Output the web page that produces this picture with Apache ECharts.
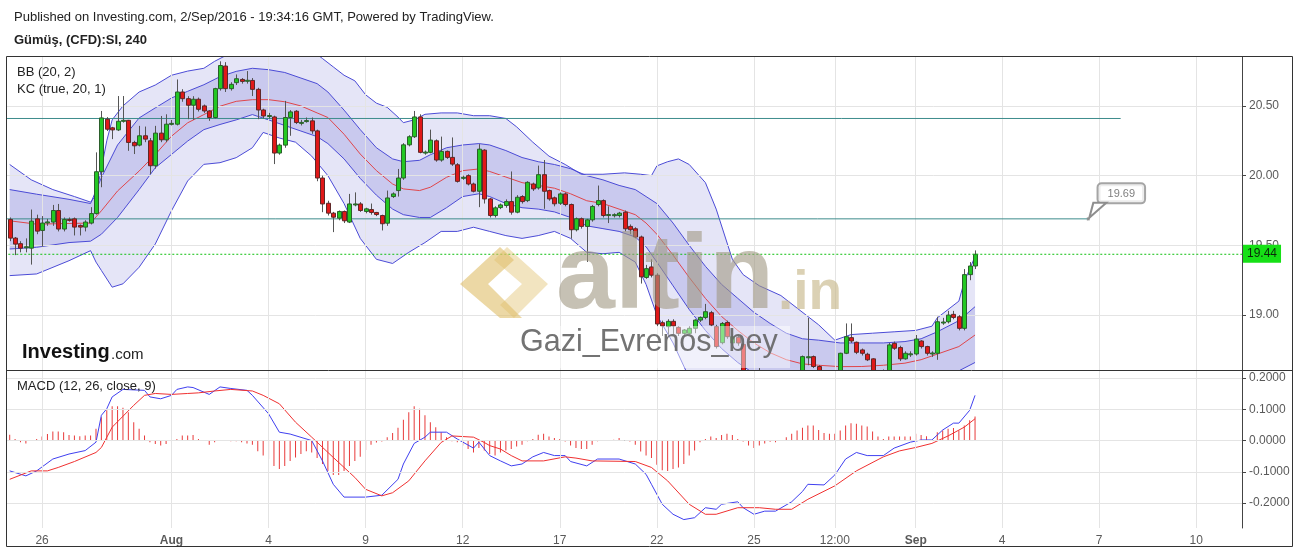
<!DOCTYPE html>
<html><head><meta charset="utf-8">
<script src="https://cdn.jsdelivr.net/npm/echarts@6/dist/echarts.min.js"></script>
<style>html,body{margin:0;padding:0;background:#fff;}#chart{width:1297px;height:552px;}</style>
</head><body><div id="chart"></div>
<script>
// ---------- time axis ----------
const tradingDays = ['2016-07-25','2016-07-26','2016-07-27','2016-07-28','2016-07-29',
  '2016-08-01','2016-08-02','2016-08-03','2016-08-04','2016-08-05',
  '2016-08-08','2016-08-09','2016-08-10','2016-08-11','2016-08-12',
  '2016-08-15','2016-08-16','2016-08-17','2016-08-18','2016-08-19',
  '2016-08-22','2016-08-23','2016-08-24','2016-08-25','2016-08-26',
  '2016-08-29','2016-08-30','2016-08-31','2016-09-01','2016-09-02'];
const barHours = ['00:00','04:00','08:00','12:00','16:00','20:00'];
const futureBars = [
  ['2016-09-03',['04:00','08:00','12:00','16:00']],
  ['2016-09-04',barHours],['2016-09-05',barHours],['2016-09-06',barHours],
  ['2016-09-07',barHours],['2016-09-08',barHours],['2016-09-09',barHours],
  ['2016-09-10',barHours],['2016-09-11',['00:00','04:00','08:00']]
];
const tickLabels = {
  '2016-07-26 00:00':'26','2016-08-01 00:00':'Aug','2016-08-04 00:00':'4',
  '2016-08-09 00:00':'9','2016-08-12 00:00':'12','2016-08-17 00:00':'17',
  '2016-08-22 00:00':'22','2016-08-25 00:00':'25','2016-08-29 12:00':'12:00',
  '2016-09-01 00:00':'Sep','2016-09-04 00:00':'4','2016-09-07 00:00':'7','2016-09-10 00:00':'10'
};
const priceTicks = [19.0, 19.5, 20.0, 20.5];
const macdTicks = [-0.2, -0.1, 0.0, 0.1, 0.2];

// ---------- candles: [open, close, low, high] ----------
const ohlc = [
[19.686,19.552,19.53,19.70],[19.552,19.509,19.43,19.56],[19.512,19.48,19.45,19.53],[19.485,19.49,19.45,19.55],
[19.48,19.674,19.362,19.757],[19.69,19.602,19.58,19.72],[19.607,19.66,19.49,19.71],[19.665,19.668,19.64,19.69],
[19.667,19.75,19.64,19.79],[19.75,19.617,19.60,19.797],[19.617,19.686,19.60,19.70],[19.686,19.684,19.67,19.70],
[19.69,19.631,19.571,19.70],[19.643,19.631,19.571,19.65],[19.631,19.667,19.60,19.68],[19.66,19.728,19.65,19.774],
[19.728,20.028,19.72,20.167],[20.028,20.414,19.917,20.464],[20.405,20.333,20.32,20.42],[20.343,20.328,20.262,20.35],
[20.328,20.39,20.32,20.571],[20.395,20.397,20.38,20.571],[20.397,20.238,20.178,20.40],[20.238,20.214,20.155,20.25],
[20.219,20.286,20.21,20.357],[20.286,20.262,20.24,20.352],[20.25,20.071,20.012,20.27],[20.071,20.305,20.05,20.357],
[20.305,20.257,20.24,20.428],[20.257,20.369,20.24,20.44],[20.369,20.375,20.36,20.40],[20.369,20.60,20.36,20.69],
[20.60,20.552,20.53,20.62],[20.552,20.505,20.405,20.57],[20.505,20.548,20.40,20.57],[20.548,20.476,20.46,20.56],
[20.50,20.464,20.45,20.51],[20.464,20.417,20.393,20.47],[20.417,20.624,20.41,20.63],[20.624,20.79,20.61,20.82],
[20.786,20.624,20.60,20.814],[20.624,20.655,20.61,20.67],[20.667,20.695,20.65,20.726],[20.69,20.676,20.66,20.70],
[20.683,20.684,20.66,20.75],[20.683,20.619,20.571,20.70],[20.619,20.471,20.405,20.63],[20.471,20.428,20.41,20.48],
[20.43,20.431,20.41,20.45],[20.421,20.162,20.083,20.43],[20.162,20.219,20.15,20.23],[20.219,20.417,20.20,20.536],
[20.417,20.457,20.286,20.47],[20.462,20.381,20.37,20.47],[20.38,20.382,20.36,20.40],[20.393,20.395,20.38,20.417],
[20.393,20.321,20.30,20.417],[20.321,19.983,19.96,20.33],[19.983,19.797,19.738,20.0],[19.802,19.731,19.714,19.82],
[19.731,19.702,19.595,19.74],[19.695,19.743,19.68,19.75],[19.743,19.676,19.66,19.75],[19.667,19.797,19.66,19.869],
[19.795,19.797,19.78,19.88],[19.797,19.75,19.74,19.81],[19.743,19.762,19.73,19.77],[19.757,19.736,19.72,19.80],
[19.736,19.721,19.71,19.74],[19.714,19.655,19.607,19.72],[19.659,19.84,19.64,19.893],[19.85,19.869,19.84,19.88],
[19.893,19.983,19.85,20.048],[19.983,20.221,19.97,20.233],[20.221,20.279,20.21,20.29],[20.279,20.421,20.27,20.464],
[20.421,20.167,20.16,20.44],[20.167,20.169,20.15,20.18],[20.167,20.255,20.16,20.33],[20.25,20.112,20.10,20.26],
[20.112,20.174,20.10,20.28],[20.174,20.131,20.12,20.18],[20.131,20.083,20.07,20.274],[20.078,19.959,19.95,20.09],
[19.985,19.988,19.97,20.0],[20.0,19.94,19.93,20.01],[19.94,19.888,19.88,19.95],[19.888,20.19,19.774,20.226],
[20.183,19.833,19.80,20.19],[19.833,19.714,19.70,19.84],[19.714,19.769,19.70,19.78],[19.771,19.79,19.76,19.80],
[19.786,19.814,19.77,19.83],[19.814,19.738,19.72,20.03],[19.738,19.845,19.73,19.86],[19.85,19.814,19.80,19.86],
[19.821,19.952,19.81,19.96],[19.94,19.905,19.89,19.95],[19.912,20.007,19.90,20.072],[20.007,19.888,19.762,20.112],
[19.893,19.833,19.82,19.90],[19.841,19.798,19.78,19.85],[19.802,19.869,19.79,19.88],[19.869,19.793,19.78,19.88],
[19.793,19.612,19.548,19.80],[19.612,19.691,19.60,19.70],[19.691,19.636,19.62,19.70],[19.636,19.683,19.381,19.69],
[19.683,19.779,19.67,19.79],[19.793,19.821,19.78,19.929],[19.821,19.714,19.70,19.83],[19.719,19.721,19.66,19.78],
[19.716,19.72,19.70,19.73],[19.714,19.731,19.70,19.74],[19.738,19.619,19.60,19.75],[19.636,19.612,19.58,19.65],
[19.619,19.56,19.55,19.63],[19.56,19.274,19.226,19.57],[19.27,19.333,19.26,19.36],[19.345,19.286,19.27,19.40],
[19.286,18.936,18.92,19.30],[18.945,18.922,18.85,18.96],[18.917,18.955,18.86,18.97],[18.955,18.922,18.86,18.97],
[18.912,18.869,18.85,18.92],[18.869,18.893,18.86,18.90],[18.869,18.905,18.86,18.92],[18.905,18.964,18.87,18.97],
[18.964,18.983,18.95,18.99],[18.983,19.024,18.97,19.08],[19.017,18.929,18.92,19.03],[18.917,18.774,18.76,18.93],
[18.802,18.94,18.79,18.95],[18.947,18.845,18.83,18.96],[18.80,18.845,18.78,18.86],[18.84,18.80,18.78,18.85],
[18.79,18.52,18.50,18.80],[18.52,18.50,18.46,18.56],[18.50,18.54,18.47,18.56],[18.54,18.57,18.52,18.62],
[18.57,18.53,18.50,18.59],[18.53,18.49,18.46,18.55],[18.49,18.47,18.44,18.52],[18.47,18.45,18.42,18.50],
[18.45,18.49,18.43,18.52],[18.49,18.52,18.47,18.55],[18.52,18.55,18.50,18.58],[18.55,18.702,18.54,18.71],
[18.70,18.701,18.64,18.98],[18.702,18.631,18.62,18.71],[18.631,18.55,18.53,18.64],[18.55,18.50,18.48,18.57],
[18.50,18.48,18.45,18.52],[18.48,18.52,18.46,18.54],[18.52,18.726,18.51,18.73],[18.726,18.845,18.72,18.94],
[18.838,18.814,18.80,18.94],[18.805,18.733,18.72,18.81],[18.75,18.726,18.71,18.76],[18.719,18.679,18.67,18.73],
[18.686,18.58,18.56,18.69],[18.58,18.56,18.54,18.60],[18.56,18.60,18.55,18.61],[18.60,18.786,18.59,18.80],
[18.797,18.762,18.75,18.81],[18.767,18.686,18.67,18.78],[18.686,18.726,18.68,18.74],[18.72,18.722,18.70,18.74],
[18.721,18.828,18.71,18.857],[18.814,18.774,18.76,18.82],[18.774,18.726,18.71,18.78],[18.726,18.728,18.70,18.74],
[18.726,18.952,18.679,18.988],[18.945,18.95,18.93,18.98],[18.952,19.0,18.94,19.03],[19.005,18.983,18.97,19.03],
[18.988,18.905,18.89,19.0],[18.905,19.29,18.89,19.33],[19.29,19.352,19.25,19.38],[19.352,19.436,19.33,19.464]
];

// ---------- overlays: [bar index, value] ----------
const bbUpper = [[0,20.08],[4,19.97],[8,19.90],[12,19.85],[15,19.81],[16,19.86],[17,20.05],[18,20.25],[19,20.40],[21,20.50],[24,20.60],[27,20.65],[30,20.72],[33,20.75],[36,20.77],[38,20.82],[40,20.86],[44,20.92],[48,20.95],[52,20.95],[56,20.90],[58,20.84],[60,20.78],[62,20.72],[64,20.68],[66,20.58],[68,20.52],[70,20.49],[72,20.42],[73,20.38],[75,20.40],[77,20.44],[80,20.45],[83,20.45],[86,20.43],[89,20.43],[92,20.41],[94,20.35],[97,20.24],[100,20.14],[103,20.08],[106,20.01],[110,20.01],[114,20.02],[117,20.01],[119,20.00],[120,20.07],[122,20.10],[124,20.12],[126,20.08],[129,19.95],[131,19.76],[134,19.40],[136,19.29],[139,19.21],[143,19.14],[146,19.05],[150,18.93],[153,18.82],[156,18.86],[160,18.87],[164,18.88],[168,18.89],[171,18.92],[172,18.98],[174,19.04],[176,19.10],[177,19.24],[178,19.33],[179,19.42]];
const bbLower = [[0,19.283],[5,19.295],[11,19.39],[15,19.462],[16,19.38],[17,19.32],[19,19.20],[21,19.224],[24,19.343],[27,19.51],[30,19.748],[33,19.962],[36,20.081],[39,20.093],[42,20.129],[45,20.20],[47,20.31],[50,20.27],[53,20.24],[56,20.14],[59,20.0],[62,19.80],[65,19.55],[68,19.40],[71,19.37],[74,19.45],[77,19.52],[80,19.60],[83,19.60],[86,19.63],[89,19.60],[92,19.57],[95,19.55],[98,19.57],[101,19.60],[104,19.55],[107,19.45],[110,19.44],[113,19.45],[116,19.38],[118,19.22],[120,19.00],[123,18.80],[126,18.55],[129,18.40],[135,18.30],[150,18.35],[160,18.40],[170,18.45],[179,18.38]];
const kcUpper = [[0,19.90],[5,19.867],[11,19.83],[15,19.80],[17,19.986],[20,20.22],[24,20.414],[27,20.486],[30,20.557],[33,20.605],[36,20.652],[39,20.71],[42,20.748],[45,20.77],[48,20.76],[51,20.74],[54,20.70],[57,20.66],[59,20.60],[62,20.47],[65,20.33],[68,20.20],[71,20.12],[73,20.10],[76,20.11],[78,20.15],[81,20.20],[84,20.22],[87,20.23],[89,20.22],[92,20.18],[95,20.13],[98,20.10],[101,20.08],[104,20.05],[107,20.00],[110,19.97],[113,19.93],[116,19.90],[118,19.85],[120,19.80],[123,19.66],[126,19.50],[129,19.35],[132,19.22],[135,19.12],[138,19.02],[141,18.94],[144,18.87],[147,18.83],[150,18.82],[154,18.80],[158,18.80],[162,18.80],[166,18.81],[169,18.83],[172,18.88],[176,18.96],[179,19.06]];
const kcLower = [[0,19.474],[5,19.486],[11,19.52],[15,19.53],[17,19.58],[20,19.70],[24,19.90],[27,20.057],[30,20.152],[33,20.248],[36,20.33],[39,20.367],[42,20.40],[45,20.438],[48,20.40],[51,20.36],[54,20.32],[57,20.28],[59,20.23],[62,20.12],[65,19.98],[68,19.86],[71,19.76],[73,19.72],[76,19.70],[78,19.70],[81,19.77],[84,19.85],[87,19.87],[89,19.85],[92,19.80],[95,19.77],[98,19.76],[101,19.74],[104,19.70],[107,19.64],[110,19.62],[113,19.60],[116,19.56],[118,19.49],[120,19.38],[123,19.21],[126,19.04],[129,18.89],[132,18.76],[135,18.66],[138,18.58],[141,18.52],[144,18.48],[147,18.46],[150,18.46],[154,18.45],[158,18.46],[162,18.48],[166,18.50],[169,18.53],[172,18.56],[176,18.60],[179,18.66]];
const basis = [[0,19.676],[5,19.652],[11,19.657],[15,19.66],[17,19.748],[20,19.89],[24,20.033],[27,20.152],[30,20.283],[33,20.379],[36,20.438],[39,20.498],[42,20.533],[45,20.545],[48,20.545],[51,20.53],[54,20.50],[57,20.45],[59,20.417],[62,20.297],[65,20.155],[68,20.036],[71,19.94],[73,19.905],[76,19.893],[78,19.917],[81,19.988],[84,20.036],[87,20.048],[89,20.03],[92,19.99],[95,19.95],[98,19.93],[101,19.91],[104,19.87],[107,19.82],[110,19.80],[113,19.76],[116,19.72],[118,19.66],[120,19.58],[123,19.43],[126,19.27],[129,19.12],[132,18.99],[135,18.89],[138,18.80],[141,18.73],[144,18.68],[147,18.65],[150,18.64],[154,18.63],[158,18.631],[162,18.64],[166,18.655],[169,18.68],[172,18.72],[176,18.774],[179,18.857]];

// ---------- MACD (12, 26, close, 9) ----------
const macdLine = [[0,-0.097],[3,-0.113],[5,-0.097],[8,-0.059],[11,-0.043],[14,-0.032],[16,-0.005],[17,0.081],[18,0.102],[19,0.140],[21,0.164],[25,0.161],[26,0.140],[28,0.134],[30,0.145],[31,0.164],[33,0.172],[34,0.170],[37,0.148],[39,0.172],[41,0.167],[44,0.161],[45,0.145],[48,0.086],[50,0.027],[52,0.021],[56,0.0],[58,-0.065],[60,-0.140],[62,-0.181],[66,-0.181],[69,-0.175],[72,-0.124],[73,-0.075],[75,-0.009],[77,0.011],[78,0.027],[81,0.027],[83,0.005],[86,-0.024],[87,-0.005],[89,-0.048],[91,-0.065],[93,-0.081],[95,-0.075],[97,-0.052],[99,-0.038],[101,-0.048],[103,-0.048],[104,-0.067],[107,-0.081],[109,-0.059],[113,-0.059],[116,-0.075],[118,-0.108],[119,-0.140],[121,-0.204],[123,-0.236],[125,-0.253],[127,-0.247],[129,-0.215],[131,-0.220],[132,-0.204],[135,-0.196],[136,-0.215],[138,-0.236],[140,-0.226],[142,-0.226],[145,-0.196],[147,-0.163],[148,-0.140],[151,-0.142],[153,-0.110],[155,-0.059],[157,-0.038],[159,-0.048],[162,-0.048],[164,-0.024],[167,-0.005],[169,0.002],[171,0.002],[173,0.034],[175,0.056],[176,0.056],[178,0.097],[179,0.145]];
const signalLine = [[0,-0.124],[4,-0.097],[7,-0.097],[9,-0.086],[12,-0.067],[16,-0.038],[17,-0.022],[19,0.043],[23,0.113],[25,0.145],[27,0.151],[30,0.148],[33,0.151],[35,0.153],[38,0.159],[41,0.164],[45,0.159],[47,0.145],[50,0.118],[53,0.059],[56,0.011],[60,-0.054],[64,-0.118],[66,-0.156],[69,-0.177],[71,-0.167],[74,-0.129],[77,-0.065],[80,-0.006],[82,0.015],[86,0.011],[88,-0.006],[89,-0.016],[91,-0.027],[93,-0.048],[95,-0.065],[99,-0.065],[103,-0.052],[105,-0.056],[108,-0.065],[116,-0.067],[119,-0.086],[122,-0.129],[126,-0.204],[129,-0.236],[131,-0.236],[135,-0.215],[139,-0.215],[142,-0.220],[145,-0.220],[148,-0.188],[153,-0.145],[157,-0.097],[162,-0.052],[165,-0.033],[168,-0.022],[171,-0.009],[174,0.015],[177,0.043],[179,0.070]];
const histogram = [
0.019,0.005,-0.005,-0.009,0.0,0.005,0.013,0.021,0.029,0.029,
0.027,0.018,0.016,0.014,0.016,0.016,0.038,0.075,0.097,0.110,
0.110,0.105,0.091,0.059,0.038,0.016,-0.005,-0.011,-0.016,-0.011,
-0.005,0.005,0.016,0.016,0.018,0.005,0.0,-0.013,-0.005,0.002,
0.0,-0.002,-0.002,-0.005,-0.009,-0.013,-0.034,-0.048,-0.059,-0.081,
-0.091,-0.081,-0.065,-0.054,-0.043,-0.034,-0.038,-0.056,-0.075,-0.097,
-0.110,-0.110,-0.097,-0.081,-0.065,-0.052,-0.030,-0.013,-0.006,-0.003,
0.011,0.024,0.041,0.067,0.091,0.110,0.102,0.081,0.059,0.043,
0.027,0.011,-0.002,-0.005,-0.016,-0.027,-0.038,-0.024,-0.032,-0.043,
-0.048,-0.038,-0.032,-0.027,-0.019,-0.013,-0.002,0.005,0.019,0.022,
0.013,0.008,0.005,-0.003,-0.016,-0.024,-0.027,-0.027,-0.013,-0.002,
0.0,0.0,0.003,0.008,0.0,-0.003,-0.013,-0.035,-0.048,-0.056,
-0.077,-0.095,-0.097,-0.091,-0.086,-0.075,-0.048,-0.032,-0.005,0.005,
0.013,0.008,0.018,0.022,0.018,0.005,-0.003,-0.016,-0.024,-0.016,
-0.009,-0.004,-0.005,0.0,0.011,0.022,0.032,0.041,0.048,0.048,
0.034,0.024,0.022,0.022,0.032,0.048,0.056,0.054,0.048,0.045,
0.029,0.013,0.005,0.013,0.013,0.013,0.013,0.013,0.022,0.018,
0.014,0.002,0.027,0.032,0.038,0.040,0.032,0.048,0.065,0.077];

// ---------- drawings ----------
const levelLines = [
  {price: 20.41, end: '2016-09-07 16:00', callout: false},
  {price: 19.69, end: '2016-09-06 16:00', callout: true}
];

// ---------- build ----------
const categories = [];
tradingDays.forEach(d => barHours.forEach(h => categories.push(d + ' ' + h)));
futureBars.forEach(([d, hs]) => hs.forEach(h => categories.push(d + ' ' + h)));
const lastClose = ohlc[ohlc.length - 1][1];
const FONT = '"Liberation Sans", Arial, sans-serif';
const GRIDC = '#e4e4e4';
const vGrid = Object.keys(tickLabels).map(k => ({xAxis: categories.indexOf(k)}));

const chart = echarts.init(document.getElementById('chart'), null, {renderer: 'canvas'});

function clipOf(cs) {
  return {type: 'rect', shape: {x: cs.x, y: cs.y, width: cs.width, height: cs.height}};
}
function bandPolygon(upper, lower, fill) {
  return function (params, api) {
    const pts = [];
    upper.forEach(p => pts.push(api.coord([p[0], p[1]])));
    for (let k = lower.length - 1; k >= 0; k--) pts.push(api.coord([lower[k][0], lower[k][1]]));
    return {type: 'group', clipPath: clipOf(params.coordSys),
      children: [{type: 'polygon', shape: {points: pts}, style: {fill: fill}}]};
  };
}
function bandLine(data, color) {
  return {type: 'line', xAxisIndex: 0, yAxisIndex: 0, data: data, showSymbol: false, symbol: 'none',
    lineStyle: {color: color, width: 1}, silent: true, z: 4, animation: false};
}
function renderCandle(params, api) {
  const i = api.value(0), o = api.value(1), c = api.value(2), l = api.value(3), h = api.value(4);
  const pO = api.coord([i, o]), pC = api.coord([i, c]), pL = api.coord([i, l]), pH = api.coord([i, h]);
  const cx = Math.round(pO[0]) + 0.5;
  const up = c >= o;
  const top = Math.min(pO[1], pC[1]), bot = Math.max(pO[1], pC[1]);
  return {type: 'group', clipPath: clipOf(params.coordSys), children: [
    {type: 'line', shape: {x1: cx, y1: pH[1], x2: cx, y2: pL[1]}, style: {stroke: '#555', lineWidth: 1}},
    {type: 'rect', shape: {x: cx - 2, y: top, width: 4, height: Math.max(bot - top, 1)},
      style: {fill: up ? '#23c823' : '#e01818', stroke: up ? '#2b5e2b' : '#5e2828', lineWidth: 1}}
  ]};
}

const series = [
  {type: 'line', xAxisIndex: 0, yAxisIndex: 0, data: [], z: 1, silent: true,
    markLine: {silent: true, symbol: 'none', animation: false, label: {show: false},
      lineStyle: {color: GRIDC, type: 'solid', width: 1},
      data: vGrid.concat(priceTicks.map(v => ({yAxis: v})))}},
  {type: 'line', xAxisIndex: 1, yAxisIndex: 1, data: [], z: 1, silent: true,
    markLine: {silent: true, symbol: 'none', animation: false, label: {show: false},
      lineStyle: {color: GRIDC, type: 'solid', width: 1},
      data: vGrid.concat(macdTicks.map(v => ({yAxis: v})))}},
  {type: 'custom', xAxisIndex: 0, yAxisIndex: 0, data: [[0, 19.5]], silent: true, z: 2, clip: true,
    renderItem: bandPolygon(bbUpper, bbLower, 'rgba(80,80,200,0.15)'), animation: false},
  {type: 'custom', xAxisIndex: 0, yAxisIndex: 0, data: [[0, 19.5]], silent: true, z: 3, clip: true,
    renderItem: bandPolygon(kcUpper, kcLower, 'rgba(80,80,200,0.19)'), animation: false},
  bandLine(bbUpper, '#4b4bd6'), bandLine(bbLower, '#4b4bd6'),
  bandLine(kcUpper, '#4b4bd6'), bandLine(kcLower, '#4b4bd6'),
  bandLine(basis, '#e0464b'),
  ...levelLines.map(l => ({type: 'line', xAxisIndex: 0, yAxisIndex: 0, silent: true, z: 5,
    data: [[-1, l.price], [categories.indexOf(l.end), l.price]], showSymbol: false, symbol: 'none',
    lineStyle: {color: '#3d8c8c', width: 1}, animation: false})),
  {type: 'scatter', xAxisIndex: 0, yAxisIndex: 0, z: 7, silent: true, animation: false,
    data: levelLines.filter(l => l.callout).map(l => [categories.indexOf(l.end), l.price]),
    symbol: 'rect', symbolSize: 3, itemStyle: {color: '#8a8a8a'},
    label: {show: true, position: 'top', offset: [33, -10], formatter: p => p.value[1].toFixed(2),
      backgroundColor: '#fff', borderColor: '#8e8e8e', borderWidth: 2, borderRadius: 3,
      padding: [4, 9, 3, 9], color: '#5e5e5e', fontSize: 11, fontFamily: FONT}},
  // candles
  {type: 'custom', xAxisIndex: 0, yAxisIndex: 0, z: 6, clip: true, animation: false, silent: true,
    data: ohlc.map((r, i) => [i, r[0], r[1], r[2], r[3]]),
    encode: {x: 0, y: [1, 2, 3, 4]}, renderItem: renderCandle},
  // last price dotted line with its badge on the price axis
  {type: 'line', xAxisIndex: 0, yAxisIndex: 0, z: 8, silent: true, animation: false,
    data: [[-1, lastClose], [categories.length, lastClose]], showSymbol: false, symbol: 'none',
    itemStyle: {color: '#10c010'}, lineStyle: {color: '#10c010', type: [2, 2], width: 1},
    markLine: {silent: true, symbol: 'none', animation: false,
      lineStyle: {color: 'rgba(0,0,0,0)', width: 1, type: 'solid'},
      label: {show: true, position: 'end', distance: 1, formatter: () => lastClose.toFixed(2),
        backgroundColor: '#16e016', color: '#0a2a0a', padding: [3, 4, 3, 4], fontSize: 12, fontFamily: FONT},
      data: [{yAxis: lastClose}]}},
  // MACD
  {type: 'bar', xAxisIndex: 1, yAxisIndex: 1, data: histogram, barWidth: 1, z: 3, animation: false,
    itemStyle: {color: '#e83a3a'}, silent: true},
  {type: 'line', xAxisIndex: 1, yAxisIndex: 1, data: macdLine, showSymbol: false, symbol: 'none', z: 4,
    lineStyle: {color: '#4040f0', width: 1}, animation: false, silent: true},
  {type: 'line', xAxisIndex: 1, yAxisIndex: 1, data: signalLine, showSymbol: false, symbol: 'none', z: 4,
    lineStyle: {color: '#f03030', width: 1}, animation: false, silent: true}
];

const option = {
  backgroundColor: '#fff',
  animation: false,
  textStyle: {fontFamily: FONT},
  grid: [
    {left: 7, top: 57, width: 1235, height: 313},
    {left: 7, top: 371, width: 1235, height: 157}
  ],
  xAxis: [
    {type: 'category', gridIndex: 0, data: categories, boundaryGap: true,
      axisLine: {show: false}, axisTick: {show: false}, axisLabel: {show: false}, splitLine: {show: false}},
    {type: 'category', gridIndex: 1, data: categories, boundaryGap: true,
      axisLine: {show: true, lineStyle: {color: '#444', width: 1}}, axisTick: {show: false},
      splitLine: {show: false},
      axisLabel: {show: true, interval: (i, v) => !!tickLabels[v], margin: 7,
        color: '#5a5a5a', fontSize: 12, fontFamily: FONT,
        formatter: v => {const t = tickLabels[v] || ''; return (t === 'Aug' || t === 'Sep') ? '{b|' + t + '}' : t;},
        rich: {b: {fontWeight: 'bold', color: '#5a5a5a', fontSize: 12, fontFamily: FONT}}}}
  ],
  yAxis: [
    {type: 'value', gridIndex: 0, position: 'right', min: 18.606, max: 20.851,
      axisLine: {show: true, lineStyle: {color: '#444'}},
      axisTick: {show: true, length: 4, lineStyle: {color: '#444'}, customValues: priceTicks},
      splitLine: {show: false},
      axisLabel: {show: true, customValues: priceTicks, formatter: v => v.toFixed(2), margin: 7,
        color: '#5a5a5a', fontSize: 12, fontFamily: FONT}},
    {type: 'value', gridIndex: 1, position: 'right', min: -0.28, max: 0.223,
      axisLine: {show: true, lineStyle: {color: '#444'}},
      axisTick: {show: true, length: 4, lineStyle: {color: '#444'}, customValues: macdTicks},
      splitLine: {show: false},
      axisLabel: {show: true, customValues: macdTicks, formatter: v => v.toFixed(4), margin: 7,
        color: '#5a5a5a', fontSize: 12, fontFamily: FONT}}
  ],
  series: series,
  graphic: [
    {id: 'pub', type: 'text', left: 14, top: 11, z: 50, style: {text: 'Published on Investing.com, 2/Sep/2016 - 19:34:16 GMT, Powered by TradingView.', fill: '#222', font: '13px ' + FONT}},
    {id: 'sym', type: 'text', left: 14, top: 34, z: 50, style: {text: 'Gümüş, (CFD):SI, 240', fill: '#222', font: 'bold 13px ' + FONT}},
    {id: 'frame', type: 'rect', z: 60, shape: {x: 6.5, y: 56.5, width: 1286, height: 490}, style: {fill: 'none', stroke: '#333', lineWidth: 1}},
    {id: 'sep', type: 'line', z: 60, shape: {x1: 7, y1: 370.5, x2: 1293, y2: 370.5}, style: {stroke: '#333', lineWidth: 1}},
    {id: 'bb', type: 'text', left: 17, top: 66, z: 50, style: {text: 'BB (20, 2)', fill: '#222', font: '13px ' + FONT}},
    {id: 'kc', type: 'text', left: 17, top: 83, z: 50, style: {text: 'KC (true, 20, 1)', fill: '#222', font: '13px ' + FONT}},
    {id: 'macd', type: 'text', left: 17, top: 380, z: 50, style: {text: 'MACD (12, 26, close, 9)', fill: '#222', font: '13px ' + FONT}},
    {id: 'inv1', type: 'text', left: 22, top: 342, z: 50, style: {text: 'Investing', fill: '#111', font: 'bold 20px ' + FONT}},
    {id: 'inv2', type: 'text', left: 111, top: 347, z: 50, style: {text: '.com', fill: '#222', font: '15px ' + FONT}},
    {id: 'lg1', type: 'polygon', z: 40, shape: {points: [[460,284],[500,247],[514,260],[488,284],[522,318],[500,318]]}, style: {fill: 'rgba(224,190,105,0.6)'}},
    {id: 'lg2', type: 'polygon', z: 40, shape: {points: [[507,247],[548,284],[514,318],[500,305],[522,284],[494,260]]}, style: {fill: 'rgba(224,190,105,0.42)'}},
    {id: 'alt', type: 'text', left: 556, top: 226, z: 40, style: {text: 'altin', fill: 'rgba(160,152,130,0.6)', font: 'bold 106px ' + FONT}},
    {id: 'in', type: 'text', left: 778, top: 266, z: 40, style: {text: '.in', fill: 'rgba(200,185,140,0.65)', font: 'bold 55px ' + FONT}},
    {id: 'gbox', type: 'rect', z: 39, shape: {x: 516, y: 326, width: 274, height: 42}, style: {fill: 'rgba(255,255,255,0.45)'}},
    {id: 'gazi', type: 'text', left: 520, top: 327, z: 41, style: {text: 'Gazi_Evrenos_bey', fill: 'rgba(100,100,100,0.9)', font: '30.5px ' + FONT}}
  ]
};
chart.setOption(option);

// callout tail for the note on the level line
levelLines.filter(l => l.callout).forEach((l, k) => {
  const p = chart.convertToPixel({xAxisIndex: 0, yAxisIndex: 0}, [categories.indexOf(l.end), l.price]);
  chart.setOption({graphic: [{id: 'tail' + k, type: 'polygon', z: 30,
    shape: {points: [[p[0] + 1, p[1] - 1], [p[0] + 5, p[1] - 16], [p[0] + 18, p[1] - 16]]},
    style: {fill: '#fff', stroke: '#8e8e8e', lineWidth: 2}}]});
});
</script></body></html>
